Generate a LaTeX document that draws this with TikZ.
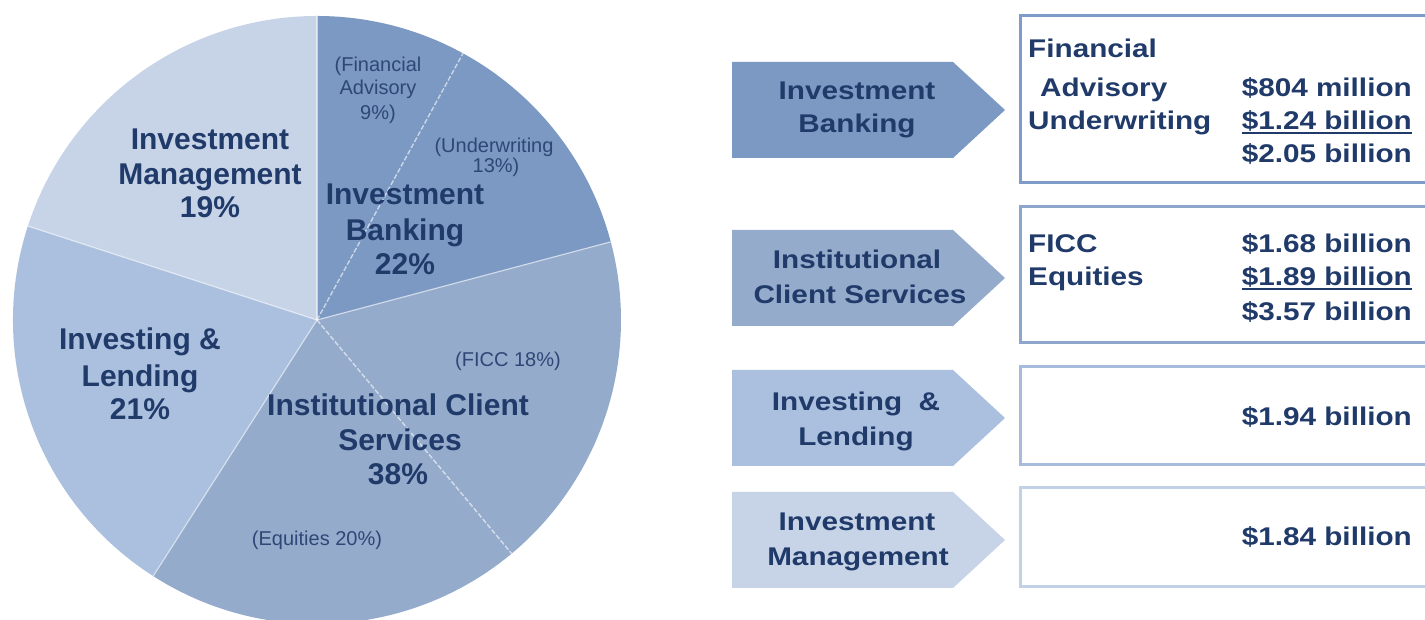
\documentclass[tikz,border=0pt]{standalone}
\usepackage{fontspec}
\setmainfont{Liberation Sans}
\newfontfamily\rfont[FakeStretch=1.16]{Liberation Sans}
\definecolor{navy}{HTML}{203A6A}
\definecolor{navytwo}{HTML}{2E4777}
\definecolor{ibc}{HTML}{7C99C3}
\definecolor{icsc}{HTML}{95ABCC}
\definecolor{ilc}{HTML}{ABC0DE}
\definecolor{imc}{HTML}{C7D4E8}
\definecolor{boxone}{HTML}{7F9BC8}
\definecolor{boxtwo}{HTML}{8EA6CE}
\definecolor{boxthree}{HTML}{A7BCDD}
\definecolor{boxfour}{HTML}{C3D1E6}
\newcommand\myul[1]{\setbox0\hbox{#1}\rlap{\rule[-4.5pt]{\wd0}{2.2pt}}\box0}
\begin{document}
\begin{tikzpicture}[x=1pt,y=1pt,
  big/.style={font=\fontsize{30}{36}\selectfont\bfseries, text=navy, anchor=base, inner sep=0pt},
  small/.style={font=\fontsize{20}{22}\selectfont, text=navytwo, anchor=base, inner sep=0pt},
  rtxt/.style={font=\rfont\fontsize{25.6}{33}\selectfont\bfseries, text=navy, inner sep=0pt},
  sep/.style={draw=white, line width=1.2pt, opacity=.55},
  subsep/.style={draw=white, line width=1.4pt, opacity=.6, dash pattern=on 5pt off 2pt},
  boxline/.style={line width=3pt, fill=white}
]
\useasboundingbox (0,0) rectangle (1425,620);
\fill[white] (0,0) rectangle (1425,620);
% ---------------- pie ----------------
\coordinate (c) at (317,300);
\def\R{304pt}
\fill[ibc] (c) -- ++(14.9:\R) arc[start angle=14.9, end angle=90, radius=\R] -- cycle;
\fill[imc] (c) -- ++(90:\R) arc[start angle=90, end angle=162, radius=\R] -- cycle;
\fill[ilc] (c) -- ++(162:\R) arc[start angle=162, end angle=237.4, radius=\R] -- cycle;
\fill[icsc] (c) -- ++(-122.6:\R) arc[start angle=-122.6, end angle=14.9, radius=\R] -- cycle;
\draw[sep] (c) -- ++(90:\R);
\draw[sep] (c) -- ++(162:\R);
\draw[sep] (c) -- ++(237.4:\R);
\draw[sep] (c) -- ++(14.9:\R);
\draw[subsep] (c) -- ++(61.3:\R);
\draw[subsep] (c) -- ++(-50.2:\R);
% pie labels
\node[big] (im1) at (210,470) {Investment};
\node[big] (im2) at (210,435) {Management};
\node[big] (im3) at (210,402) {19\%};
\node[big] (ib1) at (405,415) {Investment};
\node[big] (ib2) at (405,379) {Banking};
\node[big] (ib3) at (405,345) {22\%};
\node[big] (il1) at (140,270) {Investing \&};
\node[big] (il2) at (140,233) {Lending};
\node[big] (il3) at (140,200) {21\%};
\node[big] (ics1) at (398,204) {Institutional Client};
\node[big] (ics2) at (400,169) {Services};
\node[big] (ics3) at (398,135) {38\%};
\node[small] (fa1) at (378,548) {(Financial};
\node[small] (fa2) at (378,525) {Advisory};
\node[small] (fa3) at (378,500) {9\%)};
\node[small] (uw1) at (494,467) {(Underwriting};
\node[small] (uw2) at (496,447) {13\%)};
\node[small] (ficc) at (508,253) {(FICC 18\%)};
\node[small] (eq) at (317,74) {(Equities 20\%)};
% ---------------- right side ----------------
\fill[ibc] (732,558) -- (953,558) -- (1005,510) -- (953,462) -- (732,462) -- cycle;
\fill[icsc] (732,390) -- (953,390) -- (1005,342) -- (953,294) -- (732,294) -- cycle;
\fill[ilc] (732,250) -- (953,250) -- (1005,202) -- (953,154) -- (732,154) -- cycle;
\fill[imc] (732,128) -- (953,128) -- (1005,80) -- (953,32) -- (732,32) -- cycle;
\draw[boxline, draw=boxone] (1020,604) rectangle (1440,437);
\draw[boxline, draw=boxtwo] (1020,413) rectangle (1440,277);
\draw[boxline, draw=boxthree] (1020,253) rectangle (1440,155);
\draw[boxline, draw=boxfour] (1020,132) rectangle (1440,33);
% arrow labels
\node[rtxt, anchor=base] (a1a) at (857,520) {Investment};
\node[rtxt, anchor=base] (a1b) at (857,487) {Banking};
\node[rtxt, anchor=base] (a2a) at (857,351) {Institutional};
\node[rtxt, anchor=base] (a2b) at (860,316) {Client Services};
\node[rtxt, anchor=base] (a3a) at (856,209) {Investing\ \ \&};
\node[rtxt, anchor=base] (a3b) at (856,174) {Lending};
\node[rtxt, anchor=base] (a4a) at (857,89) {Investment};
\node[rtxt, anchor=base] (a4b) at (858,54) {Management};
% box texts
\node[rtxt, anchor=base west] (b1l1) at (1028,562) {Financial};
\node[rtxt, anchor=base west] (b1l2) at (1040,523) {Advisory};
\node[rtxt, anchor=base west] (b1l3) at (1028,490) {Underwriting};
\node[rtxt, anchor=base east] (b1v1) at (1412,523) {\$804 million};
\node[rtxt, anchor=base east] (b1v2) at (1412,490) {\myul{\$1.24 billion}};
\node[rtxt, anchor=base east] (b1v3) at (1412,457) {\$2.05 billion};
\node[rtxt, anchor=base west] (b2l1) at (1028,367) {FICC};
\node[rtxt, anchor=base west] (b2l2) at (1028,334) {Equities};
\node[rtxt, anchor=base east] (b2v1) at (1412,367) {\$1.68 billion};
\node[rtxt, anchor=base east] (b2v2) at (1412,334) {\myul{\$1.89 billion}};
\node[rtxt, anchor=base east] (b2v3) at (1412,299) {\$3.57 billion};
\node[rtxt, anchor=base east] (b3v) at (1412,194) {\$1.94 billion};
\node[rtxt, anchor=base east] (b4v) at (1412,74) {\$1.84 billion};
\end{tikzpicture}
\end{document}
